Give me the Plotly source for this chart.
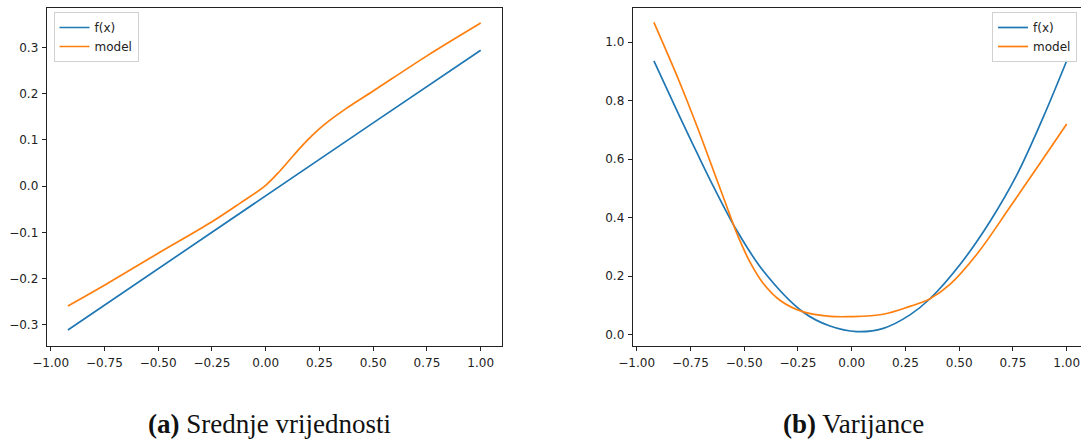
import plotly.graph_objects as go

# ---- data ----
mean_x_f = [-0.92, -0.5, 0.0, 0.5, 1.0]
mean_f = [-0.311, -0.178, -0.02, 0.137, 0.294]

mean_x_model = [-0.92, -0.75, -0.5, -0.25, -0.12, 0.0, 0.066, 0.128, 0.191, 0.249,
                0.299, 0.377, 0.5, 0.75, 1.0]
mean_model = [-0.259, -0.214, -0.145, -0.077, -0.037, 0.002, 0.033, 0.066, 0.098, 0.124,
              0.143, 0.169, 0.206, 0.282, 0.353]

var_x_f = [-0.92, -0.8, -0.72, -0.644, -0.535, -0.411, -0.225, -0.101, 0.023, 0.147,
           0.271, 0.364, 0.504, 0.644, 0.768, 0.892, 1.0]
var_f = [0.936, 0.745, 0.622, 0.508, 0.357, 0.218, 0.077, 0.030, 0.011, 0.022,
         0.068, 0.123, 0.240, 0.388, 0.546, 0.745, 0.936]

var_x_model = [-0.92, -0.8, -0.72, -0.644, -0.582, -0.535, -0.473, -0.411, -0.334, -0.225,
               -0.101, -0.008, 0.147, 0.271, 0.364, 0.457, 0.582, 0.737, 0.876, 1.0]
var_model = [1.067, 0.862, 0.713, 0.563, 0.440, 0.348, 0.248, 0.175, 0.118, 0.078,
             0.063, 0.062, 0.070, 0.097, 0.123, 0.172, 0.275, 0.437, 0.586, 0.720]

x_ticks = [-1.0, -0.75, -0.5, -0.25, 0.0, 0.25, 0.5, 0.75, 1.0]
x_ticktext = ["−1.00", "−0.75", "−0.50", "−0.25", "0.00", "0.25", "0.50", "0.75", "1.00"]
mean_yticks = [-0.3, -0.2, -0.1, 0.0, 0.1, 0.2, 0.3]
mean_yticktext = ["−0.3", "−0.2", "−0.1", "0.0", "0.1", "0.2", "0.3"]
var_yticks = [0.0, 0.2, 0.4, 0.6, 0.8, 1.0]
var_yticktext = ["0.0", "0.2", "0.4", "0.6", "0.8", "1.0"]

captions = [("(a)", "Srednje vrijednosti"), ("(b)", "Varijance")]
series_names = ["f(x)", "model"]

BLUE = "#1f77b4"
ORANGE = "#ff7f0e"
W, H = 1081, 440

fig = go.Figure()
lw = 1.7
sm = 1.0
fig.add_trace(go.Scatter(x=mean_x_f, y=mean_f, mode="lines", name=series_names[0],
                         line=dict(color=BLUE, width=lw), xaxis="x", yaxis="y", legend="legend"))
fig.add_trace(go.Scatter(x=mean_x_model, y=mean_model, mode="lines", name=series_names[1],
                         line=dict(color=ORANGE, width=lw, shape="spline", smoothing=sm),
                         xaxis="x", yaxis="y", legend="legend"))
fig.add_trace(go.Scatter(x=var_x_f, y=var_f, mode="lines", name=series_names[0],
                         line=dict(color=BLUE, width=lw, shape="spline", smoothing=sm),
                         xaxis="x2", yaxis="y2", legend="legend2"))
fig.add_trace(go.Scatter(x=var_x_model, y=var_model, mode="lines", name=series_names[1],
                         line=dict(color=ORANGE, width=lw, shape="spline", smoothing=sm),
                         xaxis="x2", yaxis="y2", legend="legend2"))

tickfont = dict(family="DejaVu Sans", size=12, color="#222")
common_x = dict(showgrid=False, zeroline=False, showline=True, linecolor="#222", linewidth=1,
                ticks="outside", ticklen=4, tickwidth=1, tickcolor="#222", automargin=False,
                tickvals=x_ticks, ticktext=x_ticktext, tickfont=tickfont,
                ticklabelstandoff=2)
common_y = dict(showgrid=False, zeroline=False, showline=True, linecolor="#222", linewidth=1,
                ticks="outside", ticklen=4, tickwidth=1, tickcolor="#222", automargin=False,
                tickfont=tickfont, ticklabelstandoff=1)

y_top = 1 - 8 / H
y_bot = 1 - 346 / H
legfont = dict(family="DejaVu Sans", size=12, color="#222")

fig.update_layout(
    width=W, height=H,
    margin=dict(l=0, r=0, t=0, b=0, autoexpand=False),
    paper_bgcolor="white", plot_bgcolor="white",
    xaxis=dict(domain=[46.7 / W, 501.7 / W], range=[-1.0186, 1.0977], anchor="y",
               mirror=True, **common_x),
    yaxis=dict(domain=[y_bot, y_top], range=[-0.3456, 0.3855], anchor="x", mirror=True,
               tickvals=mean_yticks, ticktext=mean_yticktext, **common_y),
    xaxis2=dict(domain=[632.7 / W, 1.0], range=[-1.0186, 1.0665], anchor="y2",
                mirror=True, **common_x),
    yaxis2=dict(domain=[y_bot, y_top], range=[-0.0384, 1.1164], anchor="x2",
                tickvals=var_yticks, ticktext=var_yticktext, **common_y),
    legend=dict(x=53.5 / W, y=1 - 12 / H, xanchor="left", yanchor="top",
                bgcolor="rgba(255,255,255,0.85)", bordercolor="#d0d0d0", borderwidth=1,
                font=legfont, tracegroupgap=0, itemwidth=30),
    legend2=dict(x=1077 / W, y=1 - 12 / H, xanchor="right", yanchor="top",
                 bgcolor="rgba(255,255,255,0.85)", bordercolor="#d0d0d0", borderwidth=1,
                 font=legfont, tracegroupgap=0, itemwidth=30),
    showlegend=True,
)

cap_centers = [269.5 / W, 853 / W]
for (lab, txt), cx in zip(captions, cap_centers):
    fig.add_annotation(x=cx, y=1 - 424 / H, xref="paper", yref="paper",
                       text="<b>" + lab + "</b> " + txt, showarrow=False,
                       xanchor="center", yanchor="middle",
                       font=dict(family="Liberation Serif", size=27, color="#111"))

fig.write_html("out.html")
